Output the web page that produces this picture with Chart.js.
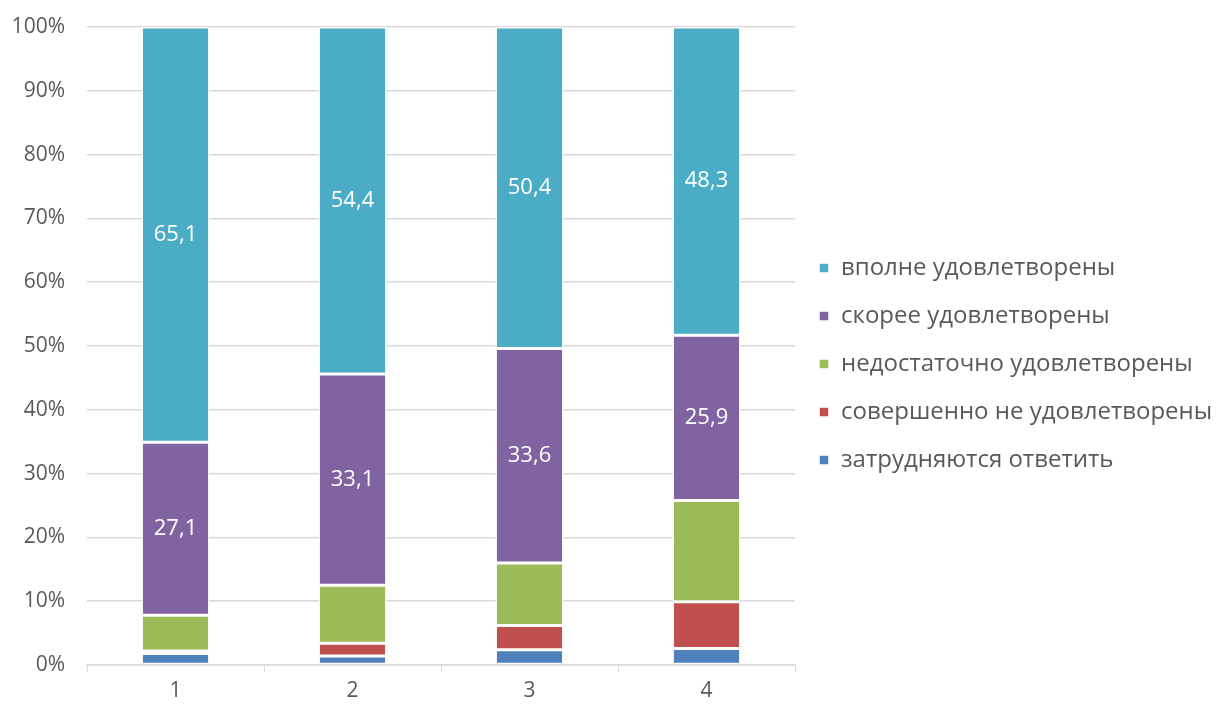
<!DOCTYPE html>
<html>
<head>
<meta charset="utf-8">
<script src="https://cdn.jsdelivr.net/npm/chart.js@4.4.1/dist/chart.umd.min.js"></script>
<style>
  html, body { margin: 0; padding: 0; background: #fff; }
  #wrap { width: 1217px; height: 704px; }
</style>
</head>
<body>
<div id="wrap"><canvas id="chart" width="1217" height="704"></canvas></div>
<script>
const categories = ['1', '2', '3', '4'];

const hardToSay = [1.8, 1.4, 2.4, 2.6];
const notSatisfied = [0.4, 2.0, 3.8, 7.3];
const insufficient = [5.6, 9.1, 9.8, 15.9];
const ratherSatisfied = [27.1, 33.1, 33.6, 25.9];
const fullySatisfied = [65.1, 54.4, 50.4, 48.3];

const seriesNames = [
    'затрудняются ответить',
    'совершенно не удовлетворены',
    'недостаточно удовлетворены',
    'скорее удовлетворены',
    'вполне удовлетворены'
];

const fontFamily = '"Open Sans", "Noto Sans", sans-serif';

// draws the numbers in the middle of the two top segments
const segmentLabels = {
    id: 'segmentLabels',
    afterDatasetsDraw(chart) {
        const ctx = chart.ctx;
        ctx.save();
        ctx.fillStyle = '#ffffff';
        ctx.font = '22px ' + fontFamily;
        ctx.textAlign = 'center';
        ctx.textBaseline = 'middle';
        chart.data.datasets.forEach((ds, i) => {
            if (!ds.showValues) return;
            chart.getDatasetMeta(i).data.forEach((bar, j) => {
                const y = (bar.y + bar.base) / 2;
                ctx.fillText(ds.data[j].toFixed(1).replace('.', ','), bar.x, y);
            });
        });
        ctx.restore();
    }
};

const ctx = document.getElementById('chart').getContext('2d');
new Chart(ctx, {
    type: 'bar',
    data: {
        labels: categories,
        datasets: [
            { label: seriesNames[0], data: hardToSay, backgroundColor: '#4F81BD' },
            { label: seriesNames[1], data: notSatisfied, backgroundColor: '#C0504D' },
            { label: seriesNames[2], data: insufficient, backgroundColor: '#9BBB59' },
            { label: seriesNames[3], data: ratherSatisfied, backgroundColor: '#8064A2', showValues: true },
            { label: seriesNames[4], data: fullySatisfied, backgroundColor: '#4BACC6', showValues: true }
        ].map(ds => Object.assign(ds, {
            borderColor: '#ffffff',
            borderWidth: 1.5,
            borderSkipped: false,
            barPercentage: 0.77,
            categoryPercentage: 0.5
        }))
    },
    options: {
        responsive: false,
        animation: false,
        layout: { padding: { top: 7, left: 0, right: 0, bottom: 0 } },
        plugins: {
            tooltip: { enabled: false },
            legend: {
                position: 'right',
                reverse: true,
                maxWidth: 422,
                title: { display: true, text: '', padding: 8, font: { size: 1 } },
                labels: {
                    boxWidth: 10,
                    boxHeight: 10,
                    padding: 24,
                    color: '#595959',
                    font: { family: fontFamily, size: 24 }
                }
            }
        },
        scales: {
            x: {
                stacked: true,
                afterFit: scale => { scale.height = 39; },
                grid: {
                    display: true,
                    drawOnChartArea: false,
                    drawTicks: true,
                    tickLength: 7,
                    color: '#d9d9d9'
                },
                border: { color: '#d9d9d9', width: 1.5 },
                ticks: { color: '#595959', padding: 6, font: { family: fontFamily, size: 21 } }
            },
            y: {
                stacked: true,
                min: 0,
                max: 100,
                afterFit: scale => {
                    scale.width = 87;
                    scale.paddingTop = 27;
                    scale.paddingBottom = 0;
                },
                ticks: {
                    stepSize: 10,
                    color: '#595959',
                    padding: 22,
                    font: { family: fontFamily, size: 21 },
                    callback: v => v + '%'
                },
                grid: { color: '#d9d9d9', lineWidth: 1.5, drawTicks: false },
                border: { display: false }
            }
        }
    },
    plugins: [segmentLabels]
});
</script>
</body>
</html>
